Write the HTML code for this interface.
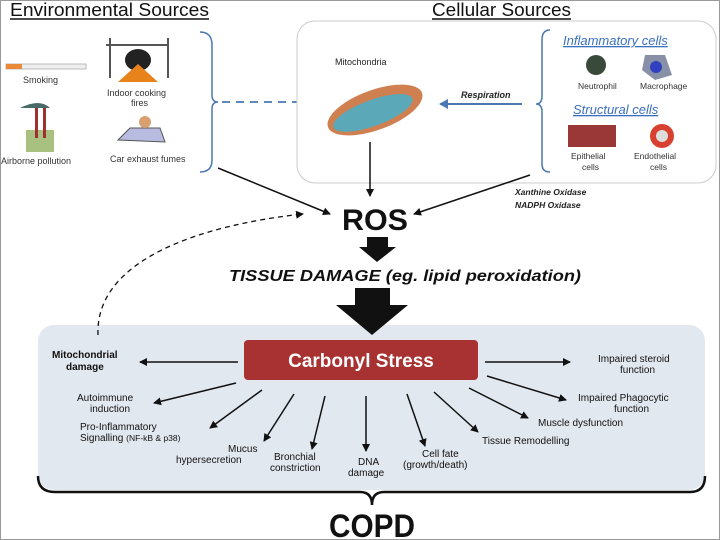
<!DOCTYPE html>
<html><head><meta charset="utf-8"><style>
body{margin:0;background:#fff}
svg{display:block;font-family:"Liberation Sans",sans-serif}
</style></head><body>
<svg width="720" height="540" viewBox="0 0 720 540" xmlns="http://www.w3.org/2000/svg">
<defs>
<marker id="a" markerWidth="8" markerHeight="8" refX="7" refY="4" orient="auto" markerUnits="userSpaceOnUse"><path d="M0,0 L8,4 L0,8 Z" fill="#111"/></marker>
<marker id="b" markerWidth="10" markerHeight="10" refX="8" refY="5" orient="auto" markerUnits="userSpaceOnUse"><path d="M0,0 L9,5 L0,10" fill="none" stroke="#4a78b0" stroke-width="2"/></marker>
<marker id="c" markerWidth="10" markerHeight="10" refX="8" refY="5" orient="auto" markerUnits="userSpaceOnUse"><path d="M0,0 L9,5 L0,10 Z" fill="#4a78b0"/></marker>
</defs>
<rect x="0.5" y="0.5" width="719" height="539" fill="#fff" stroke="#999"/>
<text x="10" y="16" font-size="18" fill="#111" textLength="199" lengthAdjust="spacingAndGlyphs">Environmental Sources</text>
<line x1="10" y1="19" x2="209" y2="19" stroke="#111" stroke-width="1.5"/>
<text x="432" y="16" font-size="18" fill="#111" textLength="139" lengthAdjust="spacingAndGlyphs">Cellular Sources</text>
<line x1="432" y1="19" x2="571" y2="19" stroke="#111" stroke-width="1.5"/>
<rect x="6" y="64" width="80" height="5" fill="#eee" stroke="#bbb"/><rect x="6" y="64" width="16" height="5" fill="#e88a3a"/>
<text x="23" y="83" font-size="9" fill="#333">Smoking</text>
<line x1="106" y1="45" x2="168" y2="45" stroke="#555" stroke-width="2"/>
<line x1="110" y1="38" x2="110" y2="78" stroke="#555" stroke-width="2"/><line x1="168" y1="38" x2="168" y2="78" stroke="#555" stroke-width="2"/>
<ellipse cx="138" cy="60" rx="13" ry="11" fill="#222"/>
<path d="M118,82 L138,64 L158,82 Z" fill="#e8821a"/>
<text x="107" y="96" font-size="9" fill="#333">Indoor cooking</text><text x="131" y="106" font-size="9" fill="#333">fires</text>
<path d="M20,108 Q40,98 50,108 Z" fill="#4a6a6a"/>
<rect x="26" y="130" width="28" height="22" fill="#a8c080"/><rect x="35" y="108" width="3" height="30" fill="#a03030"/><rect x="43" y="108" width="3" height="30" fill="#a03030"/>
<text x="1" y="164" font-size="9" fill="#333">Airborne pollution</text>
<path d="M118,140 L130,128 L160,128 L165,142 Z" fill="#b8bce0" stroke="#555"/><circle cx="145" cy="122" r="6" fill="#d8a070"/>
<text x="110" y="162" font-size="9" fill="#333">Car exhaust fumes</text>
<path d="M200,32 Q212,32 212,45 L212,95 Q212,102 218,102 Q212,102 212,109 L212,160 Q212,172 200,172" fill="none" stroke="#4a78b0" stroke-width="1.5"/>
<line x1="222" y1="102" x2="312" y2="102" stroke="#4a78b0" stroke-width="1.8" stroke-dasharray="8,6" marker-end="url(#b)"/>
<rect x="297" y="21" width="419" height="162" rx="18" fill="#fff" stroke="#ccc"/>
<text x="335" y="65" font-size="9" fill="#222">Mitochondria</text>
<g transform="rotate(-20 375 110)"><ellipse cx="375" cy="110" rx="50" ry="20" fill="#d08050"/><ellipse cx="372" cy="112" rx="42" ry="13" fill="#5aa8b8"/></g>
<line x1="522" y1="104" x2="440" y2="104" stroke="#4a78b0" stroke-width="2" marker-end="url(#c)"/>
<text x="461" y="98" font-size="9" font-weight="bold" font-style="italic" fill="#222">Respiration</text>
<path d="M550,30 Q542,30 542,40 L542,96 Q542,104 536,104 Q542,104 542,112 L542,164 Q542,172 550,172" fill="none" stroke="#4a78b0" stroke-width="1.5"/>
<text x="563" y="45" font-size="13" font-style="italic" fill="#3a6fc0" text-decoration="underline">Inflammatory  cells</text>
<circle cx="596" cy="65" r="10" fill="#3a4a3a"/><path d="M645,55 L665,55 L672,75 L655,80 L642,70 Z" fill="#8890a8"/><circle cx="656" cy="67" r="6" fill="#3040c0"/>
<text x="578" y="89" font-size="8.5" fill="#333">Neutrophil</text><text x="640" y="89" font-size="8.5" fill="#333">Macrophage</text>
<text x="573" y="114" font-size="13" font-style="italic" fill="#3a6fc0" text-decoration="underline">Structural cells</text>
<rect x="568" y="125" width="48" height="22" fill="#9a3838"/>
<circle cx="662" cy="136" r="12" fill="#d84030"/><circle cx="662" cy="136" r="6" fill="#ddd"/>
<text x="571" y="159" font-size="8.5" fill="#333">Epithelial</text><text x="582" y="170" font-size="8.5" fill="#333">cells</text>
<text x="634" y="159" font-size="8.5" fill="#333">Endothelial</text><text x="650" y="170" font-size="8.5" fill="#333">cells</text>
<line x1="218" y1="168" x2="330" y2="214" stroke="#111" stroke-width="1.5" marker-end="url(#a)"/>
<line x1="370" y1="142" x2="370" y2="196" stroke="#111" stroke-width="1.5" marker-end="url(#a)"/>
<line x1="530" y1="175" x2="414" y2="214" stroke="#111" stroke-width="1.5" marker-end="url(#a)"/>
<text x="515" y="195" font-size="8.5" font-weight="bold" font-style="italic" fill="#222">Xanthine Oxidase</text>
<text x="515" y="208" font-size="8.5" font-weight="bold" font-style="italic" fill="#222">NADPH Oxidase</text>
<text x="375" y="230" font-size="30" font-weight="bold" text-anchor="middle" fill="#111" textLength="66" lengthAdjust="spacingAndGlyphs">ROS</text>
<path d="M367,237 L388,237 L388,247 L396,247 L377,262 L359,247 L367,247 Z" fill="#111"/>
<text x="405" y="281" font-size="16" font-weight="bold" font-style="italic" text-anchor="middle" fill="#111" textLength="352" lengthAdjust="spacingAndGlyphs">TISSUE DAMAGE (eg. lipid peroxidation)</text>
<rect x="38" y="325" width="667" height="165" rx="16" fill="#e2e8f0"/>
<path d="M355,288 L390,288 L390,305 L408,305 L372,335 L336,305 L355,305 Z" fill="#111"/>
<path d="M98,335 C95,260 200,225 303,214" fill="none" stroke="#111" stroke-width="1.3" stroke-dasharray="5,4" marker-end="url(#a)"/>
<rect x="244" y="340" width="234" height="40" rx="4" fill="#a83232"/>
<text x="361" y="367" font-size="19" font-weight="bold" text-anchor="middle" fill="#fff">Carbonyl  Stress</text>
<path d="M38,476 Q38,492 55,492 L360,492 Q372,492 372,505 Q372,492 384,492 L690,492 Q705,492 705,476" fill="none" stroke="#111" stroke-width="2.5"/>
<text x="372" y="537" font-size="32" font-weight="bold" text-anchor="middle" fill="#111" textLength="86" lengthAdjust="spacingAndGlyphs">COPD</text>
<g font-size="10" fill="#111">
<text x="52" y="358" font-weight="bold">Mitochondrial</text><text x="66" y="370" font-weight="bold">damage</text>
<text x="598" y="362">Impaired steroid</text><text x="620" y="373">function</text>
<text x="77" y="401">Autoimmune</text><text x="90" y="412">induction</text>
<text x="80" y="430">Pro-Inflammatory</text><text x="80" y="441">Signalling <tspan font-size="8.5">(NF-kB &amp; p38)</tspan></text>
<text x="228" y="452">Mucus</text><text x="176" y="463">hypersecretion</text>
<text x="274" y="460">Bronchial</text><text x="270" y="471">constriction</text>
<text x="358" y="465">DNA</text><text x="348" y="476">damage</text>
<text x="422" y="457">Cell fate</text><text x="403" y="468">(growth/death)</text>
<text x="482" y="444">Tissue  Remodelling</text>
<text x="538" y="426">Muscle dysfunction</text>
<text x="578" y="401">Impaired Phagocytic</text><text x="614" y="412">function</text>
</g>
<g stroke="#111" stroke-width="1.5" marker-end="url(#a)">
<line x1="238" y1="362" x2="140" y2="362"/>
<line x1="485" y1="362" x2="570" y2="362"/>
<line x1="236" y1="383" x2="154" y2="403"/>
<line x1="262" y1="390" x2="210" y2="428"/>
<line x1="294" y1="394" x2="264" y2="441"/>
<line x1="325" y1="396" x2="312" y2="449"/>
<line x1="366" y1="396" x2="366" y2="451"/>
<line x1="407" y1="394" x2="425" y2="446"/>
<line x1="434" y1="392" x2="478" y2="432"/>
<line x1="469" y1="388" x2="528" y2="418"/>
<line x1="487" y1="376" x2="566" y2="400"/>
</g>
</svg>
</body></html>
